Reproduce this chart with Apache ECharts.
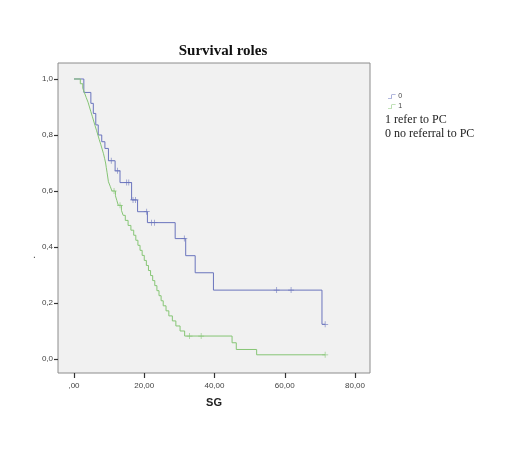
<!doctype html>
<html>
<head>
<meta charset="utf-8">
<script src="https://cdn.jsdelivr.net/npm/echarts@6/dist/echarts.min.js"></script>
<style>
  html, body { margin: 0; padding: 0; background: #fff; }
  #main { width: 512px; height: 459px; }
</style>
</head>
<body>
<div id="main"></div>
<script>
// group 0 (no referral to PC) - step points, value after each drop
var t0 = [0, 2.8, 4.8, 5.5, 6.2, 6.9, 7.9, 8.8, 9.8, 11.7, 13.1, 16.4, 18.1, 20.9, 28.8, 31.8, 34.5, 39.7, 70.6, 71.5];
var s0 = [1.0, 0.952, 0.913, 0.877, 0.836, 0.80, 0.776, 0.752, 0.708, 0.672, 0.63, 0.568, 0.526, 0.487, 0.43, 0.369, 0.308, 0.246, 0.124, 0.124];
// group 0 censored
var c0t = [10.6, 12.4, 15.0, 15.6, 16.8, 17.5, 20.7, 22.1, 22.9, 31.4, 57.7, 61.8, 71.5];
var c0s = [0.708, 0.672, 0.63, 0.63, 0.568, 0.568, 0.526, 0.487, 0.487, 0.43, 0.246, 0.246, 0.124];

// group 1 (refer to PC)
var t1 = [0, 1.8, 2.5, 3.0, 3.5, 4.0, 4.4, 4.8, 5.2, 5.6, 6.0, 6.4, 6.8, 7.2, 7.6, 8.0, 8.4, 8.7, 9.0, 9.2, 9.4, 9.6, 9.8, 10.3, 10.8,
          11.8, 12.2, 12.6, 13.5, 14.0, 14.6, 15.4, 16.2, 17.0, 17.6, 18.2, 18.8, 19.4, 20.0, 20.6, 21.2, 21.8, 22.4, 23.0,
          23.6, 24.2, 24.8, 25.4, 26.2, 27.0, 28.0, 29.0, 30.2, 31.5, 45.0, 46.2, 52.0, 71.5];
var s1 = [1.0, 0.983, 0.967, 0.95, 0.933, 0.917, 0.90, 0.883, 0.867, 0.85, 0.833, 0.817, 0.80, 0.783, 0.767, 0.75, 0.733, 0.717, 0.70, 0.683, 0.667, 0.65, 0.633, 0.617, 0.60,
          0.583, 0.566, 0.549, 0.531, 0.513, 0.495, 0.477, 0.46, 0.442, 0.424, 0.406, 0.388, 0.37, 0.352, 0.334, 0.316, 0.298, 0.28, 0.262,
          0.244, 0.226, 0.208, 0.19, 0.172, 0.154, 0.136, 0.118, 0.10, 0.082, 0.058, 0.034, 0.015, 0.015];
var c1t = [11.4, 13.1, 32.9, 36.2, 71.5];
var c1s = [0.60, 0.549, 0.082, 0.082, 0.015];

var xTicks = [0, 20, 40, 60, 80];
var yTicks = [0, 0.2, 0.4, 0.6, 0.8, 1.0];

var blue = '#6a74bd';
var green = '#86c575';
var plus = 'path://M-0.12,-1H0.12V-0.12H1V0.12H0.12V1H-0.12V0.12H-1V-0.12H-0.12Z';

function pairs(a, b) {
    var out = [];
    for (var i = 0; i < a.length; i++) out.push([a[i], b[i]]);
    return out;
}

var myChart = echarts.init(document.getElementById('main'));
myChart.setOption({
    backgroundColor: '#fff',
    animation: false,
    title: {
        text: 'Survival roles',
        left: 218, top: 39,
        textAlign: 'center',
        textStyle: { fontFamily: 'Liberation Serif', fontWeight: 'bold', fontSize: 15, color: '#111' }
    },
    // plot frame: 0 at x=74, 80 at x=355; 0 at y=359, 1 at y=79
    grid: { left: 58, top: 63, width: 312, height: 310, show: true,
            backgroundColor: '#f1f1f1', borderColor: '#8c8c8c', borderWidth: 1 },
    xAxis: {
        type: 'value', min: -4.555, max: 84.27,
        name: 'SG', nameLocation: 'middle', nameGap: 24,
        nameTextStyle: { fontFamily: 'Liberation Sans', fontWeight: 'bold', fontSize: 11, color: '#222' },
        axisLine: { show: false, onZero: false },
        axisTick: { show: true, length: 5, customValues: xTicks, lineStyle: { color: '#333', width: 1.2 } },
        splitLine: { show: false },
        axisLabel: {
            margin: 9, fontFamily: 'Liberation Sans', fontSize: 8, color: '#444',
            customValues: xTicks,
            formatter: function (v) { return v === 0 ? ',00' : v.toFixed(2).replace('.', ','); }
        }
    },
    yAxis: {
        type: 'value', min: -0.05, max: 1.0571,
        axisLine: { show: false, onZero: false },
        axisTick: { show: true, length: 4, customValues: yTicks, lineStyle: { color: '#333', width: 1.2 } },
        splitLine: { show: false },
        axisLabel: {
            margin: 5, fontFamily: 'Liberation Sans', fontSize: 8, color: '#444',
            customValues: yTicks,
            formatter: function (v) { return v.toFixed(1).replace('.', ','); }
        }
    },
    legend: {
        orient: 'vertical', left: 383, top: 88,
        itemWidth: 11, itemHeight: 4, itemGap: 3,
        icon: 'path://M0,9H9V0H20V1.5H10.5V10.5H0Z',
        textStyle: { fontFamily: 'Liberation Sans', fontSize: 7, color: '#444', padding: [0, 0, 0, -4] },
        data: ['0', '1']
    },
    graphic: [
        { type: 'text', left: 385, top: 114,
          style: { text: '1 refer to PC', font: '12px "Liberation Serif"', fill: '#222' } },
        { type: 'text', left: 385, top: 128,
          style: { text: '0 no referral to PC', font: '12px "Liberation Serif"', fill: '#222' } },
        { type: 'text', left: 33, top: 250,
          style: { text: '.', font: '10px "Liberation Sans"', fill: '#444' } }
    ],
    series: [
        { name: '0', type: 'line', step: 'end', data: pairs(t0, s0), showSymbol: false,
          lineStyle: { color: blue, width: 1 }, itemStyle: { color: blue } },
        { name: '1', type: 'line', step: 'end', data: pairs(t1, s1), showSymbol: false,
          lineStyle: { color: green, width: 1 }, itemStyle: { color: green } },
        { name: '0', type: 'scatter', data: pairs(c0t, c0s), symbol: plus, symbolSize: 6,
          itemStyle: { color: blue } },
        { name: '1', type: 'scatter', data: pairs(c1t, c1s), symbol: plus, symbolSize: 6,
          itemStyle: { color: green } }
    ]
});
</script>
</body>
</html>
